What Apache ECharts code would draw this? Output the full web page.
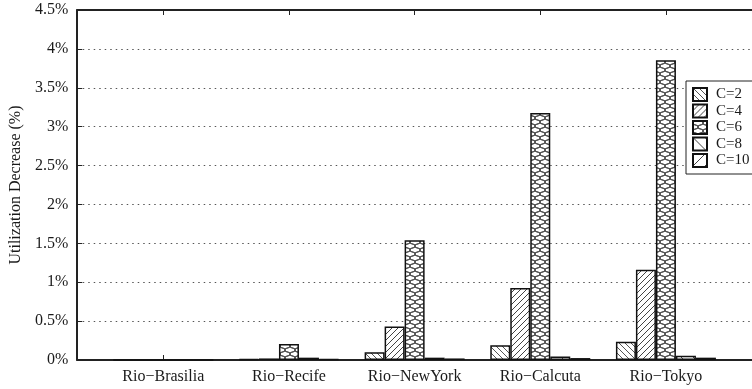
<!DOCTYPE html>
<html>
<head>
<meta charset="utf-8">
<script src="https://cdn.jsdelivr.net/npm/echarts@6/dist/echarts.min.js"></script>
<style>
  html, body { margin: 0; padding: 0; background: #fff; }
  #chart { width: 752px; height: 389px; }
</style>
</head>
<body>
<div id="chart"></div>
<script>
// Routes on the x axis
const categories = ['Rio−Brasilia', 'Rio−Recife', 'Rio−NewYork', 'Rio−Calcuta', 'Rio−Tokyo'];
// Utilization decrease (%) per route, one array per C setting
const seriesNames = ['C=2', 'C=4', 'C=6', 'C=8', 'C=10'];
const c2  = [0.0, 0.01, 0.10, 0.19, 0.235];
const c4  = [0.0, 0.02, 0.43, 0.925, 1.16];
const c6  = [0.0, 0.205, 1.54, 3.175, 3.855];
const c8  = [0.0, 0.03, 0.03, 0.045, 0.055];
const c10 = [0.0, 0.01, 0.02, 0.025, 0.03];
const seriesValues = [c2, c4, c6, c8, c10];
// Y tick labels
const yTicks = [0, 0.5, 1, 1.5, 2, 2.5, 3, 3.5, 4, 4.5];

// Hatch tiles drawn on small canvases and used as repeating fills
function hatchTile(dir, gap, lw, color) {
  const c = document.createElement('canvas');
  c.width = gap; c.height = gap;
  const g = c.getContext('2d');
  g.fillStyle = '#fff'; g.fillRect(0, 0, gap, gap);
  g.strokeStyle = color; g.lineWidth = lw;
  g.beginPath();
  if (dir === '/') {
    g.moveTo(-1, gap + 1); g.lineTo(gap + 1, -1);
    g.moveTo(-gap - 1, gap + 1); g.lineTo(1, -1);
    g.moveTo(gap - 1, gap + 1); g.lineTo(2 * gap + 1, -1);
  } else {
    g.moveTo(-1, -1); g.lineTo(gap + 1, gap + 1);
    g.moveTo(-gap - 1, -1); g.lineTo(1, gap + 1);
    g.moveTo(gap - 1, -1); g.lineTo(2 * gap + 1, gap + 1);
  }
  g.stroke();
  return c;
}
function chainTile() {
  const w = 10, h = 8;
  const c = document.createElement('canvas');
  c.width = w; c.height = h;
  const g = c.getContext('2d');
  g.fillStyle = '#fff'; g.fillRect(0, 0, w, h);
  g.strokeStyle = '#555'; g.lineWidth = 1;
  const ell = (x, y) => { g.beginPath(); g.ellipse(x, y, 4.6, 2.6, 0, 0, Math.PI * 2); g.stroke(); };
  ell(5, 2); ell(5, 2 + h); ell(5, 2 - h);
  ell(0, 6); ell(10, 6); ell(0, 6 - h); ell(10, 6 - h);
  return c;
}
const fills = [
  hatchTile('\\', 6, 1, '#555'),
  hatchTile('/', 6, 1, '#444'),
  chainTile(),
  hatchTile('\\', 12, 1, '#444'),
  hatchTile('/', 12, 1, '#444')
];

const serif = 'Liberation Serif';
const ink = '#1a1a1a';
const chart = echarts.init(document.getElementById('chart'), null, { renderer: 'canvas' });

const catPositions = categories.map((_, i) => i + 1);

chart.setOption({
  animation: false,
  backgroundColor: '#fff',
  grid: { left: 75, right: -5, top: 10, bottom: 29 },
  legend: {
    orient: 'vertical',
    left: 686, top: 81,
    padding: [6, 30, 6, 6],
    itemWidth: 14, itemHeight: 13, itemGap: 1.5,
    backgroundColor: '#fff',
    borderColor: '#222', borderWidth: 1,
    icon: 'rect',
    textStyle: { fontFamily: serif, fontSize: 15, color: ink, padding: [0, 0, 0, 4] },
    data: seriesNames
  },
  xAxis: [
    {
      type: 'value', position: 'bottom',
      min: 0.315, max: 5.685,
      axisLine: { show: true, onZero: false, lineStyle: { color: '#222', width: 2 } },
      axisTick: { show: true, inside: true, length: 5, customValues: catPositions, lineStyle: { color: '#222', width: 1 } },
      axisLabel: {
        customValues: catPositions,
        formatter: v => categories[Math.round(v) - 1] || '',
        fontFamily: serif, fontSize: 16, color: ink, margin: 9
      },
      splitLine: { show: false }
    },
    {
      type: 'value', position: 'top',
      min: 0.315, max: 5.685,
      axisLine: { show: true, onZero: false, lineStyle: { color: '#222', width: 2 } },
      axisTick: { show: true, inside: true, length: 5, customValues: catPositions, lineStyle: { color: '#222', width: 1 } },
      axisLabel: { show: false },
      splitLine: { show: false }
    }
  ],
  yAxis: {
    type: 'value',
    min: yTicks[0], max: yTicks[yTicks.length - 1], interval: 0.5,
    name: 'Utilization Decrease (%)',
    nameLocation: 'middle', nameGap: 52, nameRotate: 90,
    nameTextStyle: { fontFamily: serif, fontSize: 16, color: ink },
    axisLine: { show: true, onZero: false, lineStyle: { color: '#222', width: 2 } },
    axisTick: { show: true, inside: true, length: 5, lineStyle: { color: '#222' } },
    axisLabel: { formatter: v => v + '%', fontFamily: serif, fontSize: 16, color: ink, margin: 9 },
    splitLine: { show: true, lineStyle: { color: '#555', width: 1, type: [1.5, 4] } }
  },
  series: seriesNames.map((name, k) => ({
    name,
    type: 'bar',
    xAxisIndex: 0,
    barWidth: 20,
    barGap: '0%',
    data: seriesValues[k].map((v, i) => [i + 1, v]),
    itemStyle: {
      color: { image: fills[k], repeat: 'repeat' },
      borderColor: '#111',
      borderWidth: 1.5
    },
    emphasis: { disabled: true }
  }))
});
</script>
</body>
</html>
